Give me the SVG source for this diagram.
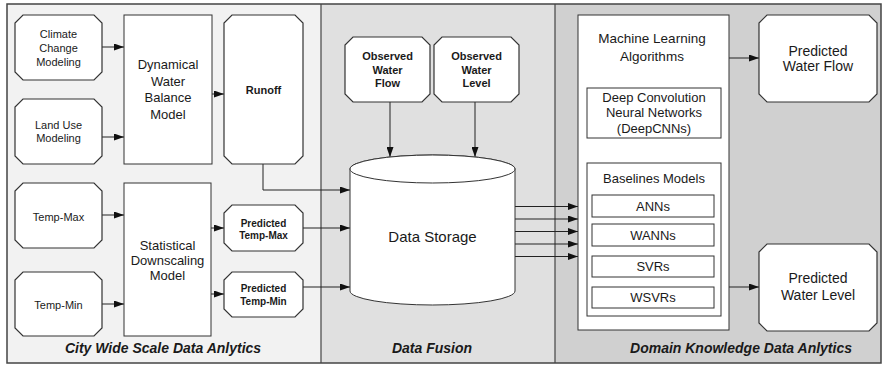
<svg xmlns="http://www.w3.org/2000/svg" width="885" height="367" viewBox="0 0 885 367">
<style>
text{font-family:"Liberation Sans",Arial,sans-serif;fill:#1a1a1a;text-anchor:middle}
.n{fill:#fff;stroke:#333;stroke-width:1.2}
.b{fill:#fff;stroke:#333;stroke-width:1}
.t11{font-size:11px}
.t13{font-size:13px}
.t135{font-size:13.5px}
.b11{font-size:11px;font-weight:bold}
.b10{font-size:10px;font-weight:bold}
.ttl{font-size:14px;font-weight:bold;font-style:italic}
.c{fill:none;stroke:#222;stroke-width:1;marker-end:url(#ah)}
</style>
<defs>
<marker id="ah" markerWidth="10" markerHeight="7" refX="10" refY="3.5" orient="auto" markerUnits="userSpaceOnUse">
<path d="M0,0 L10,3.5 L0,7 Z" fill="#111"/>
</marker>
</defs>
<g id="panels">
<rect x="7" y="4" width="314" height="359" fill="#f2f2f2"/>
<rect x="321" y="4" width="234" height="359" fill="#e0e0e0"/>
<rect x="555" y="4" width="326" height="359" fill="#d0d0d0"/>
<line x1="321" y1="4" x2="321" y2="363" stroke="#444" stroke-width="1.2"/>
<line x1="555" y1="4" x2="555" y2="363" stroke="#444" stroke-width="1.2"/>
<rect x="7" y="4" width="874" height="359" fill="none" stroke="#444" stroke-width="1.5"/>
<text class="ttl" x="163" y="353">City Wide Scale Data Anlytics</text>
<text class="ttl" x="432" y="353">Data Fusion</text>
<text class="ttl" x="741" y="353">Domain Knowledge Data Anlytics</text>
</g>
<g id="connectors">
<line class="c" x1="102" y1="47" x2="124" y2="47"/>
<line class="c" x1="102" y1="137" x2="124" y2="137"/>
<line class="c" x1="212" y1="94" x2="224" y2="94"/>
<line class="c" x1="102" y1="215" x2="124" y2="215"/>
<line class="c" x1="102" y1="304" x2="124" y2="304"/>
<line class="c" x1="211" y1="228" x2="224" y2="228"/>
<line class="c" x1="211" y1="294" x2="224" y2="294"/>
<polyline class="c" points="263,164 263,190 350,190"/>
<line class="c" x1="303" y1="228" x2="350" y2="228"/>
<line class="c" x1="303" y1="287" x2="350" y2="287"/>
<line class="c" x1="390" y1="102" x2="390" y2="157"/>
<line class="c" x1="475" y1="102" x2="475" y2="157"/>
<line class="c" x1="515" y1="206.5" x2="578" y2="206.5"/>
<line class="c" x1="515" y1="219" x2="578" y2="219"/>
<line class="c" x1="515" y1="231.5" x2="578" y2="231.5"/>
<line class="c" x1="515" y1="244" x2="578" y2="244"/>
<line class="c" x1="515" y1="256.5" x2="578" y2="256.5"/>
<line class="c" x1="729" y1="58" x2="759" y2="58"/>
<line class="c" x1="729" y1="287" x2="759" y2="287"/>
</g>
<g id="climate">
<path class="n" d="M23,15 H94 L102,23 V72 L94,80 H23 L15,72 V23 Z"/>
<text class="t11" x="58.5" y="38">Climate</text>
<text class="t11" x="58.5" y="52">Change</text>
<text class="t11" x="58.5" y="66">Modeling</text>
</g>
<g id="landuse">
<path class="n" d="M23,99 H94 L102,107 V156 L94,164 H23 L15,156 V107 Z"/>
<text class="t11" x="58.5" y="129">Land Use</text>
<text class="t11" x="58.5" y="142">Modeling</text>
</g>
<g id="dwb">
<rect class="b" x="124" y="15" width="88" height="149"/>
<text class="t13" x="168" y="69">Dynamical</text>
<text class="t13" x="168" y="86">Water</text>
<text class="t13" x="168" y="102">Balance</text>
<text class="t13" x="168" y="119">Model</text>
</g>
<g id="runoff">
<path class="n" d="M232,15 H295 L303,23 V156 L295,164 H232 L224,156 V23 Z"/>
<text class="b11" x="263.5" y="94">Runoff</text>
</g>
<g id="tempmax">
<path class="n" d="M23,183 H94 L102,191 V240 L94,248 H23 L15,240 V191 Z"/>
<text class="t11" x="58.5" y="221">Temp-Max</text>
</g>
<g id="tempmin">
<path class="n" d="M23,272 H94 L102,280 V328 L94,336 H23 L15,328 V280 Z"/>
<text class="t11" x="58.5" y="309">Temp-Min</text>
</g>
<g id="sdm">
<rect class="b" x="124" y="183" width="87" height="153"/>
<text class="t13" x="167.5" y="250">Statistical</text>
<text class="t13" x="167.5" y="265">Downscaling</text>
<text class="t13" x="167.5" y="280">Model</text>
</g>
<g id="predtempmax">
<path class="n" d="M232,205 H295 L303,213 V243 L295,251 H232 L224,243 V213 Z"/>
<text class="b10" x="263.5" y="226.5">Predicted</text>
<text class="b10" x="263.5" y="238.5">Temp-Max</text>
</g>
<g id="predtempmin">
<path class="n" d="M232,272 H295 L303,280 V309 L295,317 H232 L224,309 V280 Z"/>
<text class="b10" x="263.5" y="291.5">Predicted</text>
<text class="b10" x="263.5" y="304.5">Temp-Min</text>
</g>
<g id="obsflow">
<path class="n" d="M353,37 H422 L430,45 V94 L422,102 H353 L345,94 V45 Z"/>
<text class="b11" x="387.5" y="60">Observed</text>
<text class="b11" x="387.5" y="74">Water</text>
<text class="b11" x="387.5" y="87">Flow</text>
</g>
<g id="obslevel">
<path class="n" d="M442,37 H511 L519,45 V94 L511,102 H442 L434,94 V45 Z"/>
<text class="b11" x="476.5" y="60">Observed</text>
<text class="b11" x="476.5" y="74">Water</text>
<text class="b11" x="476.5" y="87">Level</text>
</g>
<g id="datastorage">
<path class="b" d="M350,169 V291 A82.5,14 0 0 0 515,291 V169 A82.5,14 0 0 0 350,169 Z"/>
<ellipse class="b" cx="432.5" cy="169" rx="82.5" ry="14"/>
<text x="432.5" y="242" style="font-size:15px">Data Storage</text>
</g>
<g id="ml">
<rect class="b" x="578" y="15" width="151" height="315"/>
<text class="t135" x="652" y="43">Machine Learning</text>
<text class="t135" x="652" y="61">Algorithms</text>
</g>
<g id="deepcnn">
<rect class="b" x="587" y="88" width="134" height="50"/>
<text class="t13" x="654" y="102">Deep Convolution</text>
<text class="t13" x="654" y="117">Neural Networks</text>
<text class="t13" x="654" y="133">(DeepCNNs)</text>
</g>
<g id="baselines">
<rect class="b" x="587" y="163" width="134" height="153"/>
<text class="t13" x="654" y="183">Baselines Models</text>
</g>
<g id="anns">
<rect class="b" x="592" y="195" width="122" height="22"/>
<text class="t13" x="653" y="210.5">ANNs</text>
</g>
<g id="wanns">
<rect class="b" x="592" y="224" width="122" height="22"/>
<text class="t13" x="653" y="239.5">WANNs</text>
</g>
<g id="svrs">
<rect class="b" x="592" y="256" width="122" height="21"/>
<text class="t13" x="653" y="271">SVRs</text>
</g>
<g id="wsvrs">
<rect class="b" x="592" y="287" width="122" height="21"/>
<text class="t13" x="653" y="302">WSVRs</text>
</g>
<g id="predflow">
<path class="n" d="M767,15 H869 L877,23 V94 L869,102 H767 L759,94 V23 Z"/>
<text x="818" y="56" style="font-size:14px">Predicted</text>
<text x="818" y="71" style="font-size:14px">Water Flow</text>
</g>
<g id="predlevel">
<path class="n" d="M767,244 H869 L877,252 V323 L869,331 H767 L759,323 V252 Z"/>
<text x="818" y="283" style="font-size:14px">Predicted</text>
<text x="818" y="300" style="font-size:14px">Water Level</text>
</g>
</svg>
